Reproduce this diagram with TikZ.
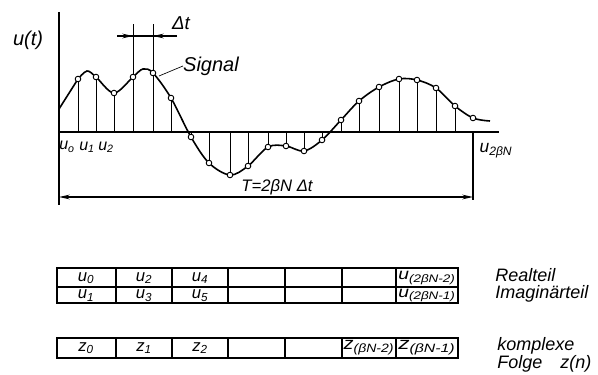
\documentclass[tikz,border=0pt]{standalone}
\usepackage{fontspec}
\setmainfont{Liberation Sans}
\usetikzlibrary{arrows.meta}
\begin{document}
\begin{tikzpicture}[x=0.75pt,y=-0.75pt,
  lbl/.style={font=\itshape\fontsize{13.5}{13.5}\selectfont, inner sep=0pt},
  sml/.style={font=\itshape\fontsize{12}{12}\selectfont, inner sep=0pt},
  cell/.style={font=\itshape\fontsize{12.5}{12.5}\selectfont, inner sep=0pt},
  tab/.style={line width=1.1pt},
  axis/.style={line width=0.9pt},
  stem/.style={line width=0.7pt},
  curve/.style={line width=1.2pt},
  dot/.style={draw, fill=white, line width=0.7pt, circle, inner sep=0pt, minimum size=4.2pt},
  tip/.style={-{Stealth[length=8pt,width=3.5pt]}, line width=0.9pt}]
\useasboundingbox (0,0) rectangle (598,374);

% axes
\coordinate (ytop) at (59,12);
\coordinate (ybot) at (59,205);
\coordinate (O) at (59,132);
\coordinate (xend) at (499,132);
\draw[axis] (ytop) -- (ybot);
\draw[axis] (O) -- (xend);

% stems
\foreach \x/\y in {78/79,96/77,114/93,171/98,191/137,209/163,230/175,248/166,268/147,286/146,304/151,322/140,341/120,359/101,379/87,399/79,417/80,436/88,455/106}
  \draw[stem] (\x,132) -- (\x,\y);
\draw[stem] (133,132) -- (133,24);
\draw[stem] (153,132) -- (153,24);
\draw[axis] (473,132) -- (473,200);

% signal curve
\draw[curve] (59,109) -- (78,79);
\draw[curve] plot[smooth, tension=0.55] coordinates {(78,79) (87,71) (96,77) (114,93) (133,77) (143,69) (153,73) (171,98) (191,137) (209,163) (230,175) (248,166) (268,147) (286,146) (304,151) (322,140) (341,120) (359,101) (379,87) (399,79) (417,80) (436,88) (455,106) (473,118) (490,121)};

% sample dots
\foreach \x/\y [count=\i] in {78/79,96/77,114/93,133/77,153/73,171/98,191/137,209/163,230/175,248/166,268/147,286/146,304/151,322/140,341/120,359/101,379/87,399/79,417/80,436/88,455/106,473/118}
  \node[dot] (s\i) at (\x,\y) {};

% Delta t dimension
\coordinate (d0) at (117,36);
\coordinate (d1) at (133,36);
\coordinate (d2) at (153,36);
\coordinate (d3) at (177,36);
\draw[axis] (d0) -- (d3);
\draw[tip] (d0) -- (d1);
\draw[tip] (d3) -- (d2);
\node[lbl, font=\itshape\fontsize{14}{14}\selectfont] (dt) at (181,23) {Δt};

% labels
\node[lbl, font=\itshape\fontsize{15}{15}\selectfont] (ut) at (28,40) {u(t)};
\node[lbl, font=\itshape\fontsize{15}{15}\selectfont] (sig) at (211,66) {Signal};
\draw[line width=0.5pt] (s5) ++(6,3) -- (sig.west);
\node[sml] (u0) at (67,147) {u\textsubscript{o}};
\node[sml] (u1) at (87,147) {u\textsubscript{1}};
\node[sml] (u2) at (106,147) {u\textsubscript{2}};
\node[sml, font=\itshape\fontsize{13}{13}\selectfont] (u2bn) at (496,151) {u\textsubscript{2βN}};

% T dimension
\coordinate (tl) at (59,197);
\coordinate (tr) at (473,197);
\coordinate (tm) at (266,197);
\draw[tip] (tm) -- (tl);
\draw[tip] (tm) -- (tr);
\node[lbl, font=\itshape\fontsize{12.5}{12.5}\selectfont] (T) at (277,187) {T=2βN Δt};

% table 1
\draw[tab] (57,268) rectangle (458,303);
\draw[tab] (57,287) -- (458,287);
\foreach \x in {116,172,228,285,342,396}
  \draw[tab] (\x,268) -- (\x,303);
\node[cell] (c0) at (86,278) {u\textsubscript{0}};
\node[cell] (c2) at (144,278) {u\textsubscript{2}};
\node[cell] (c4) at (200,278) {u\textsubscript{4}};
\node[cell] (c1) at (86,295.5) {u\textsubscript{1}};
\node[cell] (c3) at (144,295.5) {u\textsubscript{3}};
\node[cell] (c5) at (200,295.5) {u\textsubscript{5}};
\node[cell] (cn2) at (427,278) {\resizebox*{43pt}{10pt}{u\textsubscript{(2βN-2)}}};
\node[cell] (cn1) at (427,295.5) {\resizebox*{43pt}{10pt}{u\textsubscript{(2βN-1)}}};

% table 2
\draw[tab] (57,338) rectangle (458,358);
\foreach \x in {116,172,228,285,342,396}
  \draw[tab] (\x,338) -- (\x,358);
\node[cell] (z0) at (86,348) {z\textsubscript{0}};
\node[cell] (z1) at (144,348) {z\textsubscript{1}};
\node[cell] (z2) at (200,348) {z\textsubscript{2}};
\node[cell] (zn2) at (369,348) {\resizebox*{38pt}{11pt}{z\textsubscript{(βN-2)}}};
\node[cell] (zn1) at (427,348) {\resizebox*{43pt}{11pt}{z\textsubscript{(βN-1)}}};

% right labels
\node[lbl, anchor=west] (re) at (495,275) {Realteil};
\node[lbl, anchor=west] (im) at (495,294) {Imaginärteil};
\node[lbl, anchor=west] (ko) at (497,346) {komplexe};
\node[lbl, anchor=west] (fo) at (497,364) {Folge\quad z(n)};
\end{tikzpicture}
\end{document}
